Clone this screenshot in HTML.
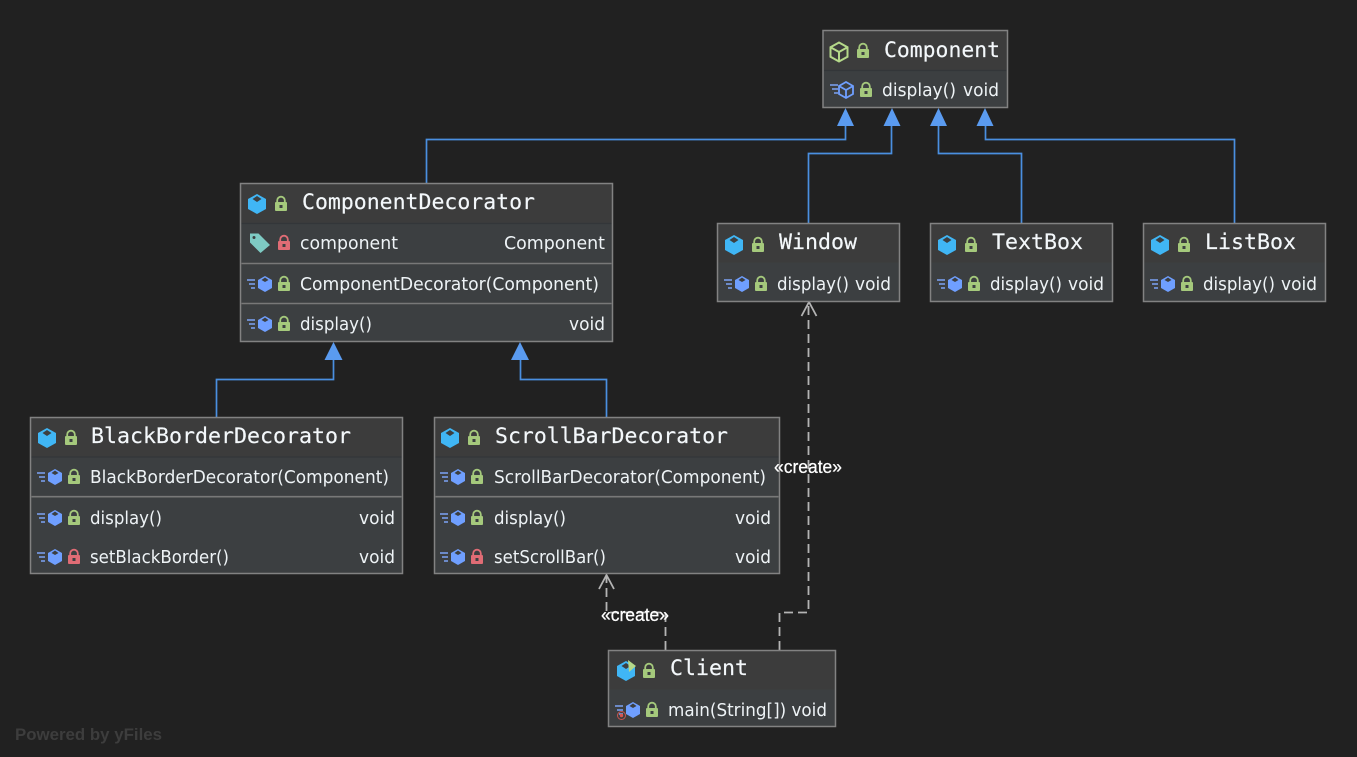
<!DOCTYPE html>
<html><head><meta charset="utf-8"><style>
html,body{margin:0;padding:0;background:#212121;width:1357px;height:757px;overflow:hidden}
svg{display:block}
.t{font-family:"DejaVu Sans Mono","Liberation Mono",monospace;font-size:21px;fill:#f4f8fb;stroke:#f4f8fb;stroke-width:.15px}
.m{font-family:"DejaVu Sans","Liberation Sans",sans-serif;font-size:18px;fill:#eef3f6}
.c{font-family:"Liberation Sans",sans-serif;font-size:18px;fill:#fff;stroke:#fff;stroke-width:.25px}
.box{fill:#3c3f41;stroke:#828282;stroke-width:1.5}
.hd{fill:#3c3c3c}
.dim{stroke:#333639;stroke-width:1.2}
.lt{stroke:#787878;stroke-width:1.6}
.e{fill:none;stroke:#4a8fe0;stroke-width:1.7}
.d{fill:none;stroke:#b4b4b4;stroke-width:1.8;stroke-dasharray:9 5}
.o{fill:none;stroke:#b4b4b4;stroke-width:1.8}
</style></head><body>
<svg width="1357" height="757" viewBox="0 0 1357 757" xmlns="http://www.w3.org/2000/svg">
<defs>
<g id="cube"><path d="M0-10L9-5V5L0 10-9 5V-5Z" fill="#40b6f5"/><path d="M0-8L4.500-5 0-2-4.500-5Z" fill="#3c3f41"/></g>
<g id="meth"><path d="M-17-4h8M-15 0h6M-13 4h4" stroke="#7ca4f5" stroke-width="1.600" fill="none"/><path d="M1-8L8-4V4L1 8-6 4V-4Z" fill="#6f9fff"/><path d="M1-6.500L4.500-4 1-2-2.500-4Z" fill="#3c3f41"/></g>
<g id="lock"><path d="M-3.800-2V-3.500A3.800 3.800 0 0 1 3.800-3.500V-2" fill="none" stroke="#a5c97c" stroke-width="1.800"/><rect x="-6" y="-2" width="12" height="9" rx="1" fill="#a5c97c"/><rect x="-1.500" y="1" width="3" height="3" fill="#3c3f41"/></g>
<g id="lockr"><path d="M-3.800-2V-3.500A3.800 3.800 0 0 1 3.800-3.500V-2" fill="none" stroke="#e06c75" stroke-width="1.800"/><rect x="-6" y="-2" width="12" height="9" rx="1" fill="#e06c75"/><rect x="-1.500" y="1" width="3" height="3" fill="#3c3f41"/></g>
</defs>

<!-- inheritance edges -->
<path class="e" d="M426.500 184V139.500H845.500V124"/>
<path class="e" d="M808.500 224V153.500H891.500V124"/>
<path class="e" d="M1021.500 224V153.500H938.500V124"/>
<path class="e" d="M1234.500 224V139.500H985.500V124"/>
<path class="e" d="M216.500 418V379.500H333.500V358"/>
<path class="e" d="M606.500 418V379.500H520.500V358"/>
<g fill="#5a9bf0">
<path d="M845.500 108L854 126H837Z"/><path d="M892 108L900.500 126H883.500Z"/><path d="M938.500 108L947 126H930Z"/><path d="M985 108L993.500 126H976.500Z"/>
<path d="M333.500 342L342.500 360H324.500Z"/><path d="M520 342L529 360H511Z"/>
</g>

<!-- dependency edges -->
<path class="d" d="M665.500 650V612.500H606.500V576"/>
<path class="d" d="M779.500 650V612.500H808.500V303"/>
<path class="o" d="M599 589L606.500 575 614 589"/>
<path class="o" d="M801.500 316L809 302 816.500 316"/>

<!-- Component -->
<rect class="box" x="823" y="30.500" width="184.500" height="77"/>
<rect class="hd" x="824" y="31.500" width="182.500" height="39"/>
<path class="dim" d="M824 70.500H1006.500"/>
<path d="M839 42.500L847.500 47.200V56.800L839 61.500 830.500 56.800V47.200ZM830.500 47.200L839 52 847.500 47.200M839 52V61.500" fill="none" stroke="#b5d98a" stroke-width="2"/>
<use href="#lock" x="863" y="51"/>
<text class="t" x="884" y="57" textLength="116" lengthAdjust="spacingAndGlyphs">Component</text>
<path d="M830 85h8M832 89h6M834 93h4" stroke="#7ca4f5" stroke-width="1.600" fill="none"/>
<path d="M846 82L853 86V94L846 98 839 94V86ZM839 86L846 90 853 86M846 90V98" fill="none" stroke="#6f9fff" stroke-width="1.800"/>
<use href="#lock" x="866" y="90"/>
<text class="m" x="882" y="96" textLength="74" lengthAdjust="spacingAndGlyphs">display()</text>
<text class="m" x="963" y="96" textLength="36" lengthAdjust="spacingAndGlyphs">void</text>

<!-- ComponentDecorator -->
<rect class="box" x="240.500" y="183.500" width="372" height="158"/>
<rect class="hd" x="241.500" y="184.500" width="370" height="39"/>
<path class="dim" d="M241.500 223.500H611.500"/>
<path class="lt" d="M241.500 263.500H611.500M241.500 303.500H611.500"/>
<use href="#cube" x="257" y="204"/>
<use href="#lock" x="281" y="204"/>
<text class="t" x="302" y="209" textLength="233" lengthAdjust="spacingAndGlyphs">ComponentDecorator</text>
<path d="M250 233.500H258.500L270 245 260.500 253 250 242.500Z" fill="#7ecbc4"/><circle cx="254" cy="237.500" r="1.500" fill="#3c3f41"/>
<use href="#lockr" x="284" y="243"/>
<text class="m" x="300" y="249" textLength="98" lengthAdjust="spacingAndGlyphs">component</text>
<text class="m" x="504" y="249" textLength="101" lengthAdjust="spacingAndGlyphs">Component</text>
<use href="#meth" x="264" y="284"/><use href="#lock" x="284" y="284"/>
<text class="m" x="300" y="290" textLength="299" lengthAdjust="spacingAndGlyphs">ComponentDecorator(Component)</text>
<use href="#meth" x="264" y="324"/><use href="#lock" x="284" y="324"/>
<text class="m" x="300" y="330" textLength="72" lengthAdjust="spacingAndGlyphs">display()</text>
<text class="m" x="569" y="330" textLength="36" lengthAdjust="spacingAndGlyphs">void</text>

<!-- Window -->
<rect class="box" x="717.500" y="223.500" width="182" height="78"/>
<rect class="hd" x="718.500" y="224.500" width="180" height="38"/>
<use href="#cube" x="734" y="245"/><use href="#lock" x="758" y="245"/>
<text class="t" x="779" y="249" textLength="78" lengthAdjust="spacingAndGlyphs">Window</text>
<use href="#meth" x="741" y="284"/><use href="#lock" x="761" y="284"/>
<text class="m" x="777" y="290" textLength="72" lengthAdjust="spacingAndGlyphs">display()</text>
<text class="m" x="855" y="290" textLength="36" lengthAdjust="spacingAndGlyphs">void</text>

<!-- TextBox -->
<rect class="box" x="930.500" y="223.500" width="182" height="78"/>
<rect class="hd" x="931.500" y="224.500" width="180" height="38"/>
<use href="#cube" x="947" y="245"/><use href="#lock" x="971" y="245"/>
<text class="t" x="992" y="249" textLength="91" lengthAdjust="spacingAndGlyphs">TextBox</text>
<use href="#meth" x="954" y="284"/><use href="#lock" x="974" y="284"/>
<text class="m" x="990" y="290" textLength="72" lengthAdjust="spacingAndGlyphs">display()</text>
<text class="m" x="1068" y="290" textLength="36" lengthAdjust="spacingAndGlyphs">void</text>

<!-- ListBox -->
<rect class="box" x="1143.500" y="223.500" width="182" height="78"/>
<rect class="hd" x="1144.500" y="224.500" width="180" height="38"/>
<use href="#cube" x="1160" y="245"/><use href="#lock" x="1184" y="245"/>
<text class="t" x="1205" y="249" textLength="91" lengthAdjust="spacingAndGlyphs">ListBox</text>
<use href="#meth" x="1167" y="284"/><use href="#lock" x="1187" y="284"/>
<text class="m" x="1203" y="290" textLength="72" lengthAdjust="spacingAndGlyphs">display()</text>
<text class="m" x="1281" y="290" textLength="36" lengthAdjust="spacingAndGlyphs">void</text>

<!-- BlackBorderDecorator -->
<rect class="box" x="30.500" y="417.500" width="372" height="156"/>
<rect class="hd" x="31.500" y="418.500" width="370" height="38"/>
<path class="dim" d="M31.500 457H401.500"/>
<path class="lt" d="M31.500 496.700H401.500"/>
<use href="#cube" x="47" y="438"/><use href="#lock" x="71" y="438"/>
<text class="t" x="91" y="443" textLength="260" lengthAdjust="spacingAndGlyphs">BlackBorderDecorator</text>
<use href="#meth" x="54" y="477"/><use href="#lock" x="74" y="477"/>
<text class="m" x="90" y="483" textLength="299" lengthAdjust="spacingAndGlyphs">BlackBorderDecorator(Component)</text>
<use href="#meth" x="54" y="518"/><use href="#lock" x="74" y="518"/>
<text class="m" x="90" y="524" textLength="72" lengthAdjust="spacingAndGlyphs">display()</text>
<text class="m" x="359" y="524" textLength="36" lengthAdjust="spacingAndGlyphs">void</text>
<use href="#meth" x="54" y="557"/><use href="#lockr" x="74" y="557"/>
<text class="m" x="90" y="563" textLength="139" lengthAdjust="spacingAndGlyphs">setBlackBorder()</text>
<text class="m" x="359" y="563" textLength="36" lengthAdjust="spacingAndGlyphs">void</text>

<!-- ScrollBarDecorator -->
<rect class="box" x="434.500" y="417.500" width="345" height="156"/>
<rect class="hd" x="435.500" y="418.500" width="343" height="38"/>
<path class="dim" d="M435.500 457H778.500"/>
<path class="lt" d="M435.500 496.700H778.500"/>
<use href="#cube" x="450" y="438"/><use href="#lock" x="474" y="438"/>
<text class="t" x="495" y="443" textLength="233" lengthAdjust="spacingAndGlyphs">ScrollBarDecorator</text>
<use href="#meth" x="457" y="477"/><use href="#lock" x="477" y="477"/>
<text class="m" x="494" y="483" textLength="272" lengthAdjust="spacingAndGlyphs">ScrollBarDecorator(Component)</text>
<use href="#meth" x="457" y="518"/><use href="#lock" x="477" y="518"/>
<text class="m" x="494" y="524" textLength="72" lengthAdjust="spacingAndGlyphs">display()</text>
<text class="m" x="735" y="524" textLength="36" lengthAdjust="spacingAndGlyphs">void</text>
<use href="#meth" x="457" y="557"/><use href="#lockr" x="477" y="557"/>
<text class="m" x="494" y="563" textLength="112" lengthAdjust="spacingAndGlyphs">setScrollBar()</text>
<text class="m" x="735" y="563" textLength="36" lengthAdjust="spacingAndGlyphs">void</text>

<!-- Client -->
<rect class="box" x="608.500" y="650.500" width="227" height="76"/>
<rect class="hd" x="609.500" y="651.500" width="225" height="38"/>
<use href="#cube" x="626" y="671"/>
<path d="M628 660L636 666 629 672Z" fill="#b5d98a"/>
<use href="#lock" x="649" y="671"/>
<text class="t" x="670" y="675" textLength="78" lengthAdjust="spacingAndGlyphs">Client</text>
<use href="#meth" x="632" y="710"/>
<circle cx="621.500" cy="715.500" r="4" fill="none" stroke="#c75450" stroke-width="1"/><circle cx="621.500" cy="715.500" r="1.700" fill="#d9534f"/>
<use href="#lock" x="652" y="710"/>
<text class="m" x="668" y="716" textLength="159" lengthAdjust="spacingAndGlyphs">main(String[]) void</text>

<!-- dependency labels -->
<text class="c" x="774" y="473" textLength="68" lengthAdjust="spacingAndGlyphs">«create»</text>
<text class="c" x="601" y="621" textLength="68" lengthAdjust="spacingAndGlyphs">«create»</text>

<text x="15" y="740" font-family="'Liberation Sans',sans-serif" font-weight="700" font-size="17" fill="#3d3d3d" textLength="147" lengthAdjust="spacingAndGlyphs">Powered by yFiles</text>
</svg>
</body></html>
